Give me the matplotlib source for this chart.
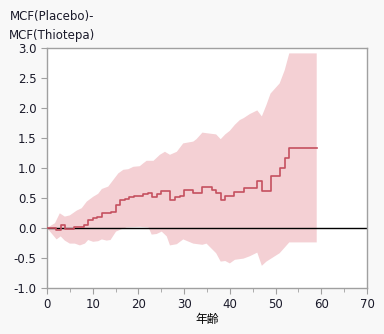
import numpy as np
import matplotlib.pyplot as plt

plt.rcParams['font.family'] = ['DejaVu Sans', 'Noto Sans CJK JP']

# 平均累積関数の差（ステップ）
step_x = [0, 2, 3, 4, 6, 8, 9, 10, 11, 12, 14, 15, 16, 17, 18, 19, 21, 22, 23, 24,
          25, 27, 28, 29, 30, 32, 34, 36, 37, 38, 39, 41, 43, 46, 47, 49, 51, 52, 53, 59]
step_y = [0.0, -0.04, 0.045, -0.02, 0.01, 0.05, 0.14, 0.17, 0.18, 0.25, 0.27, 0.39,
          0.46, 0.49, 0.52, 0.53, 0.57, 0.58, 0.52, 0.56, 0.61, 0.46, 0.52, 0.53, 0.64,
          0.58, 0.68, 0.64, 0.58, 0.46, 0.53, 0.60, 0.67, 0.78, 0.61, 0.87, 1.0, 1.17,
          1.34, 1.34]

# 信頼区間 上限
upper_x = [0, 1.75, 2.8, 3.9, 5.0, 6.5, 7.6, 8.7, 10.1, 11.2, 12.0, 13.4, 14.2, 15.6,
           16.7, 17.8, 18.9, 20.3, 21.1, 21.8, 23.3, 24.7, 25.8, 26.9, 28.4, 29.8, 32.0,
           32.7, 34.0, 34.9, 37.0, 38.0, 39.0, 40.0, 41.1, 42.2, 43.0, 44.4, 46.0, 47.0,
           48.0, 48.9, 50.9, 52.0, 53.0, 59.0]
upper_y = [0.0, 0.08, 0.245, 0.19, 0.21, 0.29, 0.33, 0.44, 0.52, 0.57, 0.65, 0.69, 0.77,
           0.91, 0.97, 0.98, 1.02, 1.03, 1.08, 1.12, 1.12, 1.22, 1.27, 1.22, 1.27, 1.41,
           1.44, 1.48, 1.59, 1.58, 1.56, 1.48, 1.56, 1.62, 1.72, 1.80, 1.83, 1.90, 1.96,
           1.86, 2.05, 2.24, 2.41, 2.63, 2.91, 2.91]

# 信頼区間 下限
lower_x = [0, 1.0, 2.1, 3.0, 3.9, 5.0, 6.1, 7.2, 8.3, 9.0, 10.1, 11.2, 12.0, 13.05,
           13.9, 15.1, 16.3, 17.4, 20.3, 22.2, 22.9, 24.0, 25.1, 26.2, 26.9, 28.4, 29.8,
           32.0, 34.0, 34.9, 37.0, 38.0, 39.0, 40.0, 41.1, 43.0, 44.4, 46.0, 47.0, 48.0,
           50.9, 53.0, 59.0]
lower_y = [0.0, -0.09, -0.19, -0.14, -0.21, -0.26, -0.26, -0.29, -0.26, -0.20, -0.23,
           -0.22, -0.19, -0.21, -0.20, -0.06, -0.02, 0.01, 0.02, 0.01, -0.11, -0.10,
           -0.06, -0.14, -0.29, -0.27, -0.19, -0.26, -0.28, -0.26, -0.42, -0.56, -0.55,
           -0.59, -0.53, -0.51, -0.47, -0.41, -0.63, -0.56, -0.42, -0.24, -0.24]

fig = plt.figure(figsize=(3.84, 3.34), dpi=100, facecolor='#f8f8f8')
ax = fig.add_axes([47 / 384, 46 / 334, 320 / 384, 240 / 334])
ax.set_facecolor('white')

band_x = np.concatenate([upper_x, lower_x[::-1]])
band_y = np.concatenate([upper_y, lower_y[::-1]])
ax.fill(band_x, band_y, color='#f4d0d4', lw=0, zorder=1)
ax.axhline(0, color='black', lw=1.0, zorder=2)
ax.step(step_x, step_y, where='post', color='#c5505f', lw=1.2, zorder=3)

ax.set_xlim(0, 70)
ax.set_ylim(-1.0, 3.0)
ax.set_xticks(np.arange(0, 71, 10))
ax.set_xticks(np.arange(5, 70, 10), minor=True)
ax.set_yticks(np.arange(-1.0, 3.01, 0.5))
ax.set_yticklabels([f'{v:.1f}' for v in np.arange(-1.0, 3.01, 0.5)])
ax.tick_params(labelsize=8.5, colors='#a0a0a0', labelcolor='#1a1a2a', length=4, width=0.8)
ax.tick_params(which='minor', length=3, colors='#a0a0a0')
for s in ax.spines.values():
    s.set_color('#a0a0a0')
    s.set_linewidth(1.0)

ax.set_xlabel('年齢', fontsize=8.5, family=['Noto Sans CJK JP'], labelpad=1)
fig.text(52 / 384, 1 - 26 / 334, 'MCF(Placebo)-\nMCF(Thiotepa)', fontsize=8.5,
         ha='center', va='center', multialignment='center', linespacing=1.6,
         color='#1a1a2a')

fig.savefig('out.png', dpi=100, facecolor=fig.get_facecolor())
